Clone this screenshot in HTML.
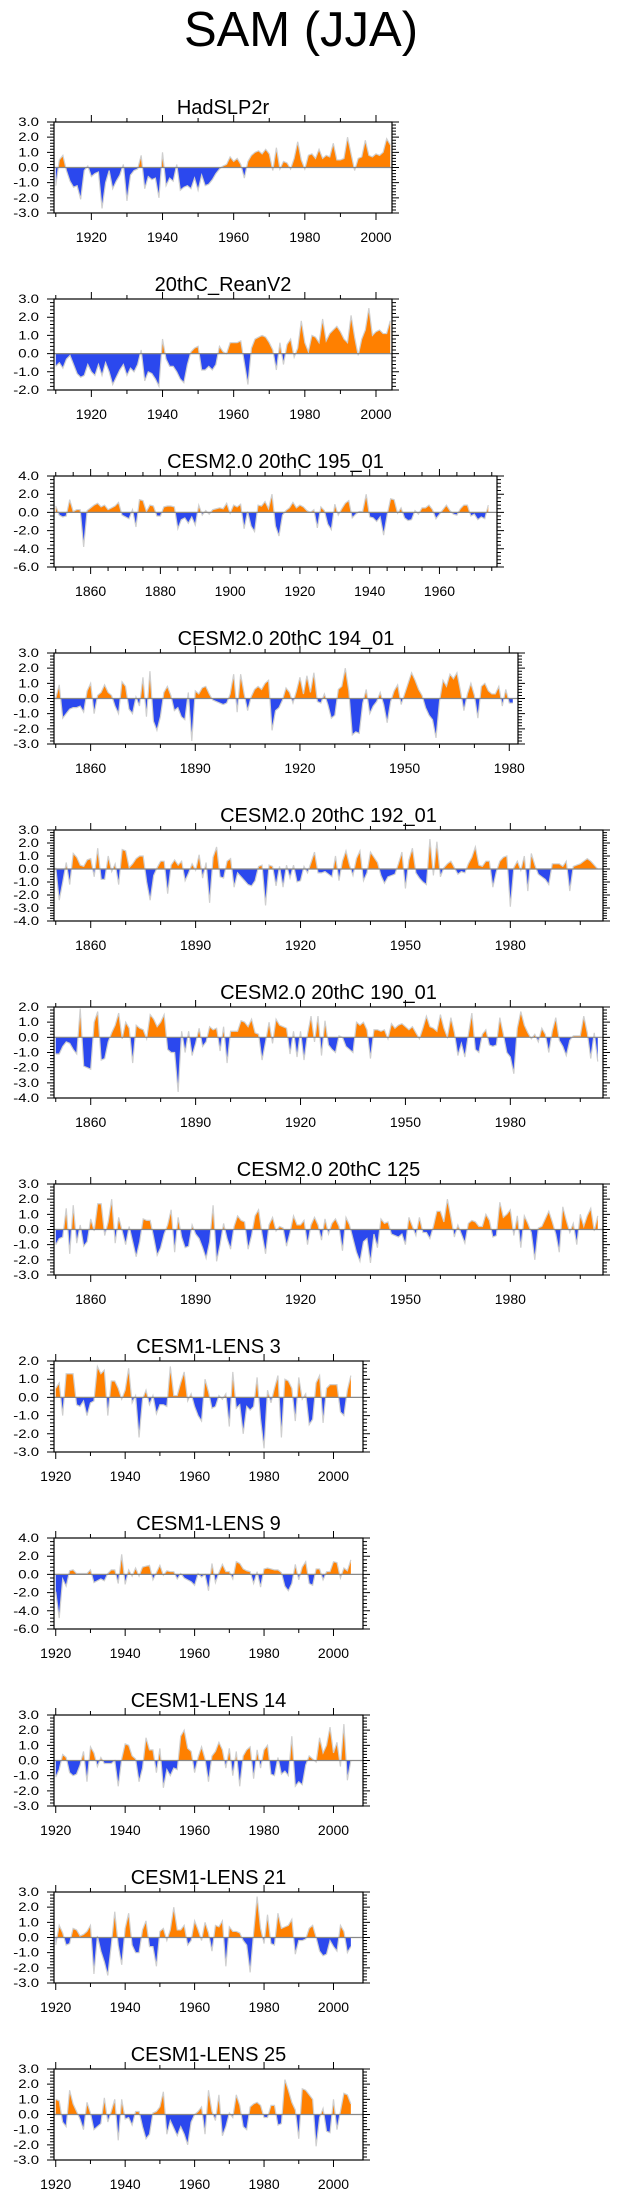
<!DOCTYPE html>
<html><head><meta charset="utf-8"><title>SAM (JJA)</title>
<style>html,body{margin:0;padding:0;background:#fff;}svg{display:block;}</style>
</head><body>
<svg id="chart" width="623" height="2198" viewBox="0 0 623 2198" xmlns="http://www.w3.org/2000/svg" font-family="Liberation Sans, Arial, sans-serif">
<rect x="0" y="0" width="623" height="2198" fill="#fff"/>
<text x="301" y="46" font-size="49" text-anchor="middle">SAM (JJA)</text>
</svg>
<script>
const hadslp2r=[-1.2,0.5,0.8,-0.2,-0.9,-1.3,-1.2,-2.1,-0.2,0.1,-0.6,-0.4,-0.3,-2.7,-1.0,-0.2,-1.4,-0.9,-0.5,0.2,-2.2,-0.5,-0.2,-0.1,0.8,-1.4,-0.6,-0.8,-0.7,-2.0,1.0,-1.2,-0.7,-0.9,0.2,-1.5,-1.3,-1.2,-1.4,-0.7,-1.5,-0.5,-1.2,-1.1,-0.8,-0.4,-0.1,0.1,0.2,0.7,0.4,0.6,0.2,-0.7,0.4,0.8,1.0,1.1,0.9,1.2,0.9,-0.2,1.3,-0.1,0.4,0.3,-0.1,0.6,1.7,0.5,-0.1,0.8,0.9,0.6,1.2,0.6,0.8,0.7,1.6,0.5,0.5,0.6,2.0,0.9,-0.2,0.6,0.7,1.8,0.8,0.7,0.9,0.8,1.0,1.9,1.5];
const reanV2=[-0.7,-0.5,-0.8,-0.3,-0.1,-0.6,-1.1,-1.3,-1.2,-0.6,-1.0,-1.2,-0.6,-1.2,-0.5,-1.0,-1.7,-1.3,-0.9,-0.6,-1.2,-0.8,-1.0,-0.6,0.2,-1.5,-1.0,-1.1,-1.4,-1.8,0.8,-0.3,-0.7,-0.7,-1.0,-1.4,-1.6,-0.6,0.1,0.3,0.4,-0.9,-0.9,-0.7,-0.9,-0.6,0.4,0.1,0.0,0.6,0.6,0.6,0.7,-0.5,-1.7,0.3,0.8,0.9,1.0,0.9,0.6,0.2,-0.9,0.6,-0.6,0.5,0.8,-0.2,0.3,1.8,0.6,0.1,1.0,0.9,0.6,1.9,0.7,1.1,1.3,1.5,1.2,0.8,0.6,2.1,0.9,-0.1,0.8,1.3,2.5,1.0,1.2,1.3,1.1,1.1,1.8];
const cesm195=[0.7,-0.3,-0.5,-0.4,1.4,0.1,0.3,0.3,-3.8,0.2,0.5,0.8,1.0,0.6,0.8,0.3,0.5,0.7,1.1,-0.3,-0.5,-0.7,0.3,-1.6,1.4,1.3,0.1,0.8,0.7,-0.4,-0.4,0.6,0.7,0.7,0.6,-1.8,-0.8,-0.6,-1.2,-0.5,-1.4,0.8,-0.3,0.2,-0.2,0.3,0.4,0.5,0.4,1.0,-0.1,0.8,0.6,0.9,-1.8,0.1,-1.5,-2.1,0.8,0.7,1.2,0.4,2.0,-1.5,-2.6,-0.3,0.2,0.5,1.1,0.5,0.8,0.6,0.2,0.0,0.3,-1.7,0.6,0.2,-1.3,-1.9,0.9,-0.3,0.4,1.0,1.3,-0.6,-0.2,0.1,0.1,2.0,-0.5,-0.6,-1.0,-0.5,-2.5,-0.3,1.5,1.4,-0.1,0.5,-0.6,-0.9,-0.8,0.2,-0.2,0.5,0.5,0.8,0.3,-0.7,-0.2,0.3,0.8,0.2,-0.2,-0.3,0.4,0.8,0.8,-0.4,-0.2,-0.8,-0.5,-0.7,0.8];
const cesm194=[0.0,0.9,-1.3,-1.0,-0.7,-0.6,-0.6,-0.5,-0.9,0.5,1.0,-1.0,0.2,0.4,0.9,0.4,0.2,-0.5,-1.0,1.1,0.8,-0.7,-1.0,0.1,-0.5,1.4,-1.2,1.8,-1.5,-2.1,-1.2,0.4,0.8,0.2,-0.8,-0.6,-1.2,-1.4,0.4,-2.8,0.5,0.3,0.7,0.8,0.3,-0.1,-0.2,-0.3,-0.4,-0.3,0.3,1.6,-0.9,1.6,0.3,-0.8,0.1,0.6,0.8,0.6,1.0,1.2,-2.1,-0.8,-0.6,-0.1,0.7,0.4,-0.3,0.5,1.4,0.3,1.5,0.4,1.7,-0.2,-0.3,0.3,-0.4,-1.3,-1.1,0.6,0.8,2.0,0.5,-2.4,-2.2,-2.3,-0.3,0.6,-1.0,-0.5,-0.2,0.4,-0.4,-1.6,-0.2,0.5,0.9,-0.4,0.3,1.0,1.7,1.2,0.6,0.2,-0.6,-1.1,-1.4,-2.6,-0.2,1.2,0.8,1.6,1.3,1.7,0.5,-0.8,0.3,1.0,0.2,-1.3,0.8,1.0,0.5,0.3,0.3,0.8,-0.5,0.6,-0.3,-0.3];
const cesm192=[0.1,-2.4,-1.0,0.5,-1.2,1.2,0.9,0.3,0.2,0.7,0.8,-0.6,1.6,-0.8,-0.8,1.0,-0.2,0.4,-1.2,1.5,1.4,0.1,0.4,0.8,1.0,1.0,-1.0,-2.4,-0.5,0.1,0.6,0.6,-1.9,0.3,0.7,0.3,0.6,-0.9,-0.3,0.4,-0.1,1.1,-0.7,0.5,-2.6,0.9,1.7,-0.6,-0.7,0.6,0.8,-1.4,-0.3,-0.6,-0.9,-1.2,-1.3,-0.9,0.2,0.3,-2.8,0.3,0.2,-1.3,0.2,-1.4,0.3,-0.7,0.3,-1.0,-0.9,0.2,-0.3,0.5,1.3,-0.3,-0.3,-0.2,-0.4,-0.6,1.0,-0.9,0.6,1.4,0.3,-0.5,0.8,1.4,-0.9,-0.3,1.3,0.9,0.5,-0.5,-1.1,-0.6,-0.5,-0.4,0.4,1.3,-1.5,0.7,1.6,-0.3,-0.7,-1.0,-1.2,2.3,-0.5,2.1,-0.6,0.1,0.4,0.6,0.1,-0.4,-0.2,-0.3,0.4,0.9,1.7,0.3,0.2,0.6,0.6,-1.4,-0.2,0.6,0.9,1.0,-2.9,0.1,0.6,-0.1,1.0,-1.7,1.2,0.3,-0.4,-0.6,-0.8,-1.2,0.4,0.4,0.4,0.2,0.6,-1.7,0.2,0.3,0.4,0.6,0.8,0.6,0.3,0.0];
const cesm190=[-1.1,-1.1,-0.6,-0.3,-0.4,-0.8,-1.1,1.9,-1.9,-2.0,-2.1,1.0,1.7,-1.5,-1.4,-0.3,0.3,0.8,1.6,-0.1,1.0,0.6,-1.7,0.8,0.6,0.5,-0.1,1.5,1.2,0.7,1.0,1.5,-0.8,-1.0,-1.0,-3.6,0.4,-1.0,0.4,-1.2,-0.4,0.6,-0.6,-0.3,0.7,0.5,0.6,-0.9,0.7,-1.7,0.4,0.4,0.4,1.1,1.0,0.7,1.2,0.3,0.2,-1.5,-0.3,1.0,-0.4,1.2,0.8,0.7,0.6,-1.1,0.4,-1.3,0.4,-1.5,0.2,1.4,-0.3,1.4,-1.2,1.1,-0.5,-0.8,-1.0,0.1,0.0,-0.6,-0.8,-1.0,1.0,0.8,1.0,0.5,-1.4,0.5,0.5,0.4,0.5,-0.1,0.9,0.6,0.8,0.9,0.7,0.5,0.7,0.3,-0.1,0.6,1.4,0.7,0.6,0.4,1.5,0.6,0.0,1.3,0.3,-1.2,-0.4,-1.3,0.2,1.6,-0.8,-1.0,0.2,0.5,-0.5,-0.6,-0.5,1.3,0.2,-1.0,-1.3,-2.4,0.6,1.7,0.8,0.3,-0.1,0.2,-0.3,0.6,0.2,-1.0,0.4,1.3,-0.2,-0.6,-1.2,-0.2,0.1,0.1,0.1,1.4,0.3,-1.4,0.3,-1.6];
const cesm125=[-1.0,-0.6,-0.5,1.4,-1.6,1.6,-0.9,0.3,-1.1,-0.8,0.7,-0.1,1.7,1.7,-0.4,0.5,2.0,-0.9,0.8,-0.1,-1.0,0.2,-0.8,-1.8,-0.8,0.7,0.6,0.6,-0.5,-1.7,-1.2,-0.3,0.3,1.3,-1.5,0.8,-0.5,-1.2,-1.1,0.3,-0.3,-0.6,-1.2,-1.9,-0.8,1.6,-2.1,-1.0,0.4,-0.6,-1.3,0.2,0.9,0.6,0.5,-1.3,-0.4,0.9,1.3,-0.3,-1.6,0.3,0.8,-0.1,0.2,0.1,-1.1,-0.2,0.9,0.3,0.3,0.6,-1.0,0.3,0.8,0.3,-0.7,0.7,-0.3,0.4,0.7,0.2,-1.4,0.8,0.3,-0.6,-1.5,-2.1,-0.8,-0.6,-2.2,-0.3,-1.2,0.7,0.4,0.5,-0.3,-0.4,-0.5,-0.3,-1.0,0.8,0.2,-0.4,0.8,-0.2,-0.2,-0.6,0.2,1.2,1.2,0.5,2.0,0.8,-0.5,0.3,-0.3,-0.9,0.4,0.6,0.5,0.2,0.2,1.0,0.6,-0.5,-0.4,1.8,0.8,1.0,1.3,-0.4,0.9,-1.2,0.9,0.4,-0.2,-2.0,0.1,0.2,0.7,1.2,0.5,-0.3,-1.5,1.5,0.6,-0.2,0.4,-1.0,1.0,0.2,0.9,1.4,-0.1,0.9];
const lens3=[0.5,0.8,-1.0,1.3,1.3,1.3,-0.4,-0.5,-0.2,-1.0,-0.3,-0.2,1.7,1.3,1.5,-1.0,0.9,0.9,0.5,-0.1,0.4,1.6,-0.3,0.1,-2.2,-0.1,0.4,-0.4,0.1,-0.9,-0.4,-0.4,-0.5,1.7,0.1,0.1,0.8,1.4,-0.2,0.2,-0.5,-1.0,-1.3,1.0,0.3,-0.6,-0.5,0.1,-0.1,0.2,-1.6,1.4,-0.6,-0.4,-2.0,-0.5,-0.7,-0.5,1.1,-1.2,-2.8,0.4,-0.3,0.5,1.2,-2.2,1.0,0.9,0.5,-1.3,1.1,-0.1,0.2,-1.5,-1.2,0.8,1.2,-1.4,0.5,0.7,0.7,0.7,-0.8,-1.0,0.4,1.2];
const lens9=[-1.9,-4.8,-0.5,-1.3,0.4,0.5,0.1,0.1,0.1,0.1,0.5,-0.9,-0.7,-0.5,-0.7,0.1,0.5,0.5,-1.0,2.2,-1.1,0.5,-0.2,0.7,-0.2,0.8,0.9,1.0,-0.6,0.2,1.0,-0.1,0.4,0.3,0.3,-0.5,0.1,-0.4,-0.6,-0.8,-1.2,0.1,-0.3,0.0,-1.8,1.2,-0.9,0.2,1.1,0.3,0.3,-0.5,1.4,1.2,0.6,0.4,0.3,-1.0,0.3,-1.4,0.6,0.7,0.6,0.5,0.5,0.2,-1.3,-1.8,-1.0,1.1,-0.6,0.8,1.4,-1.0,-1.2,0.6,0.6,-0.6,0.3,0.3,1.4,1.3,-0.4,0.7,0.4,1.6];
const lens14=[-1.1,-0.6,0.4,0.2,-0.8,-1.0,-0.9,-0.3,0.6,-1.4,0.9,0.5,-0.4,0.2,-0.2,-0.2,-0.2,0.0,-1.7,0.1,1.1,1.0,0.3,0.1,-1.4,-0.5,1.5,0.7,0.7,-0.8,0.8,-1.8,-0.6,-1.0,-0.5,-0.6,1.6,2.0,0.8,0.6,-0.8,0.2,0.9,0.1,-1.4,0.3,0.6,1.2,0.7,-0.5,0.8,-1.0,0.6,-1.7,0.3,0.7,0.9,-1.2,0.7,-0.5,0.7,1.0,-0.9,-1.0,0.2,-0.9,-0.7,-1.0,1.6,-1.7,-1.4,-1.6,-0.3,0.3,0.1,-0.1,1.5,0.5,1.0,2.2,0.5,1.2,-0.4,2.4,-1.3,0.0];
const lens21=[-0.5,0.8,0.3,-0.5,-0.4,0.6,0.5,0.1,0.2,0.4,0.8,-2.4,0.1,-0.9,-1.6,-2.5,-0.5,1.7,-0.5,-1.8,0.6,1.6,-0.5,-1.0,-1.0,0.5,1.1,-0.6,-0.6,-1.9,0.4,0.6,-0.2,0.5,2.0,0.5,0.5,0.8,-0.5,-0.2,1.1,0.5,-0.2,1.0,0.3,-0.9,0.8,0.7,1.1,-1.9,0.7,0.4,0.4,0.3,-0.2,-0.5,-2.3,0.3,2.7,0.6,-0.4,1.5,-0.4,-0.5,1.6,0.6,0.7,0.8,1.2,-1.1,-0.2,-0.2,-0.1,0.6,0.8,0.0,-0.9,-1.2,-1.1,-0.2,-0.6,-0.9,0.8,0.4,-1.0,-0.6];
const lens25=[1.0,0.9,-0.5,-0.8,1.6,0.7,0.2,-0.3,-1.0,0.8,0.1,-1.0,-0.8,-0.6,1.1,-0.5,0.2,1.0,-1.7,1.0,-0.3,-0.2,-0.7,0.2,0.2,-0.8,-1.6,-1.3,0.1,0.2,0.5,1.5,-1.3,-0.4,-0.9,-1.4,-0.8,-1.3,-2.0,-0.5,0.0,0.2,0.5,-1.3,1.6,0.2,-0.4,1.3,-1.4,-0.8,0.1,-0.2,1.3,0.6,-0.8,-1.0,0.5,0.7,0.8,0.6,-0.2,-0.2,0.6,0.6,-0.7,-0.6,2.3,1.6,0.8,0.3,-1.6,1.7,1.6,1.3,1.0,-2.1,-0.2,0.4,-1.1,-1.2,1.0,-1.0,0.2,1.4,1.3,0.7];

const panelTitles=["HadSLP2r","20thC_ReanV2","CESM2.0 20thC 195_01","CESM2.0 20thC 194_01","CESM2.0 20thC 192_01","CESM2.0 20thC 190_01","CESM2.0 20thC 125","CESM1-LENS 3","CESM1-LENS 9","CESM1-LENS 14","CESM1-LENS 21","CESM1-LENS 25"];
const panelSeries=[hadslp2r,reanV2,cesm195,cesm194,cesm192,cesm190,cesm125,lens3,lens9,lens14,lens21,lens25];
const startYears=[1910,1910,1850,1850,1850,1850,1850,1920,1920,1920,1920,1920];
const yMax=[3,3,4,3,3,2,3,2,4,3,3,3];
const yMin=[-3,-2,-6,-3,-4,-4,-3,-3,-6,-3,-3,-3];
const yStep=[1,1,2,1,1,1,1,1,2,1,1,1];
const xStart=[1909.5,1909.5,1849.5,1849.5,1849.5,1849.5,1849.5,1919.5,1919.5,1919.5,1919.5,1919.5];
const xEnd=[2004.5,2004.5,1976.5,1982.5,2006.5,2006.5,2006.5,2008.5,2008.5,2008.5,2008.5,2008.5];
const xMajor=[20,20,20,30,30,30,30,20,20,20,20,20];
const xMinor=[10,10,5,10,10,10,10,10,10,10,10,10];

const NS="http://www.w3.org/2000/svg";
const svg=document.getElementById('chart');
const BOX_LEFT=54, BOX_H=91, TOP0=122, STEP=177;
const RIGHTS=[392,392,497,518,603,603,603,363,363,363,363,363];
const ORANGE="#FF8000", BLUE="#2B48EE";

function mk(tag,attrs,parent){const e=document.createElementNS(NS,tag);for(const k in attrs)e.setAttribute(k,attrs[k]);(parent||svg).appendChild(e);return e;}
function fmt(v){return v.toFixed(1);}

panelSeries.forEach((vals,pi)=>{
  const top=TOP0+STEP*pi, left=BOX_LEFT, right=RIGHTS[pi];
  const x0=xStart[pi], x1=xEnd[pi], ymx=yMax[pi], ymn=yMin[pi];
  const sx=yr=>left+(yr-x0)/(x1-x0)*(right-left);
  const sy=v=>top+(ymx-v)/(ymx-ymn)*BOX_H;
  const g=mk('g',{});
  
  

  const t=mk('text',{x:(left+right)/2,y:top-8,'font-size':20,'text-anchor':'middle'},g);
  t.textContent=panelTitles[pi];
  
  

  // points with zero crossings
  const pts=[];
  for(let i=0;i<vals.length;i++){
    const yr=startYears[pi]+i, v=vals[i];
    if(i>0){const pv=vals[i-1];
      if((pv>0&&v<0)||(pv<0&&v>0)){const f=pv/(pv-v);pts.push([yr-1+f,0]);}}
    pts.push([yr,v]);
  }
  const z=sy(0);
  const first=sx(pts[0][0]), last=sx(pts[pts.length-1][0]);
  let dp='M'+first+','+z, dn='M'+first+','+z;
  pts.forEach(p=>{dp+=' L'+sx(p[0]).toFixed(2)+','+sy(Math.max(p[1],0)).toFixed(2);
                  dn+=' L'+sx(p[0]).toFixed(2)+','+sy(Math.min(p[1],0)).toFixed(2);});
  dp+=' L'+last+','+z+' Z'; dn+=' L'+last+','+z+' Z';
  const pa=mk('path',{d:dp,fill:ORANGE,stroke:'none'},g);
  
  
  const na=mk('path',{d:dn,fill:BLUE,stroke:'none'},g);
  
  
  const line=mk('polyline',{points:pts.map(p=>sx(p[0]).toFixed(2)+','+sy(p[1]).toFixed(2)).join(' '),fill:'none',stroke:'#cfcfcf','stroke-width':1.2},g);
  
  
  const zl=mk('line',{x1:left,x2:right,y1:z,y2:z,stroke:'#888','stroke-width':1.2},g);
  
  
  const box=mk('rect',{x:left,y:top,width:right-left,height:BOX_H,fill:'none',stroke:'#000','stroke-width':1.2},g);
  
  

  // x ticks
  let tk='';
  const bot=top+BOX_H;
  for(let yr=Math.ceil(x0/xMinor[pi])*xMinor[pi];yr<=x1;yr+=xMinor[pi]){
    const X=sx(yr).toFixed(2), major=(yr%xMajor[pi]===0), L=major?7:4;
    tk+='M'+X+','+bot+' v'+L+' M'+X+','+top+' v-'+L+' ';
    if(major){const lb=mk('text',{x:X,y:bot+29,'font-size':14,'text-anchor':'middle'},g);
      lb.textContent=String(yr);
      
      }
  }
  // y ticks
  const st=yStep[pi], nm=Math.round((ymx-ymn)/st);
  for(let k=0;k<=nm;k++){
    const v=ymx-k*st, Y=sy(v).toFixed(2);
    tk+='M'+left+','+Y+' h-7 M'+right+','+Y+' h7 ';
    if(k<nm){for(let m=1;m<5;m++){const Ym=sy(v-m*st/5).toFixed(2);tk+='M'+left+','+Ym+' h-4 M'+right+','+Ym+' h4 ';}}
    const lb=mk('text',{transform:'translate(39,'+(sy(v)+4).toFixed(2)+') scale(1.3,1)','font-size':11.5,'text-anchor':'end'},g);
    lb.textContent=fmt(v);
    
    
  }
  const tp=mk('path',{d:tk,stroke:'#000','stroke-width':1,fill:'none'},g);
  
  
});
</script>
</body></html>
